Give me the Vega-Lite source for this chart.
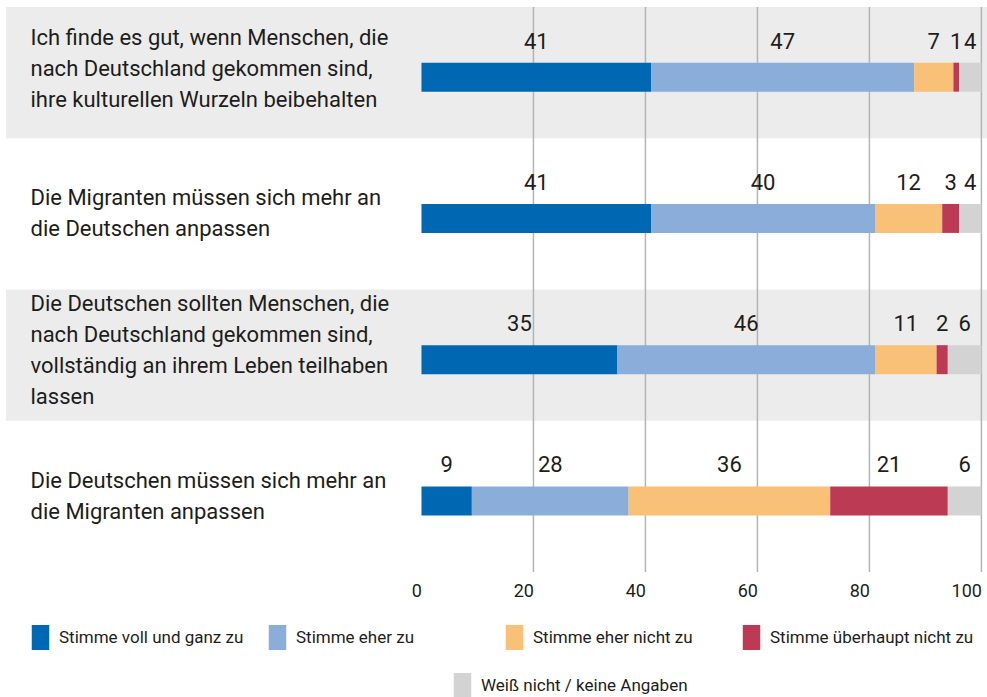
{
  "$schema": "https://vega.github.io/schema/vega-lite/v6.json",
  "width": 981,
  "height": 565,
  "autosize": {"type": "none"},
  "padding": {"left": 6, "top": 7, "right": 0, "bottom": 125},
  "background": "white",
  "config": {
    "view": {"stroke": null},
    "font": "Roboto, sans-serif",
    "text": {"font": "Roboto, sans-serif"}
  },
  "datasets": {
    "statements": [
      {"statement": "Ich finde es gut, wenn Menschen, die|nach Deutschland gekommen sind,|ihre kulturellen Wurzeln beibehalten", "shade": 1},
      {"statement": "Die Migranten müssen sich mehr an|die Deutschen anpassen", "shade": 0},
      {"statement": "Die Deutschen sollten Menschen, die|nach Deutschland gekommen sind,|vollständig an ihrem Leben teilhaben|lassen", "shade": 1},
      {"statement": "Die Deutschen müssen sich mehr an|die Migranten anpassen", "shade": 0}
    ],
    "gridlines": [{"v": 20}, {"v": 40}, {"v": 60}, {"v": 80}, {"v": 100}],
    "responses": [
      {"statement": "Ich finde es gut, wenn Menschen, die|nach Deutschland gekommen sind,|ihre kulturellen Wurzeln beibehalten", "answer": "Stimme voll und ganz zu", "rank": 1, "pct": 41},
      {"statement": "Ich finde es gut, wenn Menschen, die|nach Deutschland gekommen sind,|ihre kulturellen Wurzeln beibehalten", "answer": "Stimme eher zu", "rank": 2, "pct": 47},
      {"statement": "Ich finde es gut, wenn Menschen, die|nach Deutschland gekommen sind,|ihre kulturellen Wurzeln beibehalten", "answer": "Stimme eher nicht zu", "rank": 3, "pct": 7},
      {"statement": "Ich finde es gut, wenn Menschen, die|nach Deutschland gekommen sind,|ihre kulturellen Wurzeln beibehalten", "answer": "Stimme überhaupt nicht zu", "rank": 4, "pct": 1},
      {"statement": "Ich finde es gut, wenn Menschen, die|nach Deutschland gekommen sind,|ihre kulturellen Wurzeln beibehalten", "answer": "Weiß nicht / keine Angaben", "rank": 5, "pct": 4},
      {"statement": "Die Migranten müssen sich mehr an|die Deutschen anpassen", "answer": "Stimme voll und ganz zu", "rank": 1, "pct": 41},
      {"statement": "Die Migranten müssen sich mehr an|die Deutschen anpassen", "answer": "Stimme eher zu", "rank": 2, "pct": 40},
      {"statement": "Die Migranten müssen sich mehr an|die Deutschen anpassen", "answer": "Stimme eher nicht zu", "rank": 3, "pct": 12},
      {"statement": "Die Migranten müssen sich mehr an|die Deutschen anpassen", "answer": "Stimme überhaupt nicht zu", "rank": 4, "pct": 3},
      {"statement": "Die Migranten müssen sich mehr an|die Deutschen anpassen", "answer": "Weiß nicht / keine Angaben", "rank": 5, "pct": 4},
      {"statement": "Die Deutschen sollten Menschen, die|nach Deutschland gekommen sind,|vollständig an ihrem Leben teilhaben|lassen", "answer": "Stimme voll und ganz zu", "rank": 1, "pct": 35},
      {"statement": "Die Deutschen sollten Menschen, die|nach Deutschland gekommen sind,|vollständig an ihrem Leben teilhaben|lassen", "answer": "Stimme eher zu", "rank": 2, "pct": 46},
      {"statement": "Die Deutschen sollten Menschen, die|nach Deutschland gekommen sind,|vollständig an ihrem Leben teilhaben|lassen", "answer": "Stimme eher nicht zu", "rank": 3, "pct": 11},
      {"statement": "Die Deutschen sollten Menschen, die|nach Deutschland gekommen sind,|vollständig an ihrem Leben teilhaben|lassen", "answer": "Stimme überhaupt nicht zu", "rank": 4, "pct": 2},
      {"statement": "Die Deutschen sollten Menschen, die|nach Deutschland gekommen sind,|vollständig an ihrem Leben teilhaben|lassen", "answer": "Weiß nicht / keine Angaben", "rank": 5, "pct": 6},
      {"statement": "Die Deutschen müssen sich mehr an|die Migranten anpassen", "answer": "Stimme voll und ganz zu", "rank": 1, "pct": 9},
      {"statement": "Die Deutschen müssen sich mehr an|die Migranten anpassen", "answer": "Stimme eher zu", "rank": 2, "pct": 28},
      {"statement": "Die Deutschen müssen sich mehr an|die Migranten anpassen", "answer": "Stimme eher nicht zu", "rank": 3, "pct": 36},
      {"statement": "Die Deutschen müssen sich mehr an|die Migranten anpassen", "answer": "Stimme überhaupt nicht zu", "rank": 4, "pct": 21},
      {"statement": "Die Deutschen müssen sich mehr an|die Migranten anpassen", "answer": "Weiß nicht / keine Angaben", "rank": 5, "pct": 6}
    ]
  },
  "layer": [
    {
      "data": {"name": "statements"},
      "transform": [{"filter": "datum.shade == 1"}],
      "mark": {"type": "rect", "color": "#ececec"},
      "encoding": {
        "y": {
          "field": "statement",
          "type": "nominal",
          "sort": null,
          "scale": {
            "type": "band",
            "domain": [
              "Ich finde es gut, wenn Menschen, die|nach Deutschland gekommen sind,|ihre kulturellen Wurzeln beibehalten",
              "Die Migranten müssen sich mehr an|die Deutschen anpassen",
              "Die Deutschen sollten Menschen, die|nach Deutschland gekommen sind,|vollständig an ihrem Leben teilhaben|lassen",
              "Die Deutschen müssen sich mehr an|die Migranten anpassen"
            ],
            "paddingInner": 0.07,
            "paddingOuter": 0.035,
            "align": 0
          },
          "axis": {
            "title": null,
            "orient": "left",
            "domain": false,
            "ticks": false,
            "tickSize": 0,
            "labelAlign": "left",
            "labelBaseline": "middle",
            "labelPadding": -24,
            "labelOffset": {
              "condition": [
                {"test": "indexof(datum.value, 'Wurzeln') >= 0", "value": -35},
                {"test": "indexof(datum.value, 'lassen') >= 0", "value": -51}
              ],
              "value": -15.5
            },
            "labelExpr": "split(datum.value, '|')",
            "labelLineHeight": 31,
            "labelFont": "Roboto, sans-serif",
            "labelFontSize": 22,
            "labelColor": "#1d1d1b",
            "labelLimit": 500,
            "labelBound": false,
            "labelOverlap": false,
            "zindex": 1
          }
        }
      }
    },
    {
      "data": {"name": "gridlines"},
      "mark": {"type": "rule", "color": "#b4b4b4", "strokeWidth": 1.5},
      "encoding": {
        "x": {
          "field": "v",
          "type": "quantitative",
          "scale": {"domain": [-74.2, 101], "nice": false, "zero": false},
          "axis": {
            "title": null,
            "values": [0, 20, 40, 60, 80, 100],
            "grid": false,
            "domain": false,
            "ticks": false,
            "labelAlign": "right",
            "labelFlush": false,
            "labelPadding": 10,
            "labelFont": "Roboto, sans-serif",
            "labelFontSize": 18,
            "labelColor": "#1d1d1b"
          }
        }
      }
    },
    {
      "mark": {"type": "rule", "color": "#3c3c3c", "strokeWidth": 2},
      "encoding": {
        "x": {"datum": 0, "type": "quantitative", "scale": {"domain": [-74.2, 101], "nice": false, "zero": false}}
      }
    },
    {
      "data": {"name": "responses"},
      "transform": [
        {"stack": "pct", "groupby": ["statement"], "sort": [{"field": "rank", "order": "ascending"}], "as": ["x0", "x1"]},
        {"calculate": "(datum.x0 + datum.x1) / 2", "as": "mid"}
      ],
      "layer": [
        {
          "transform": [{"filter": "datum.rank < 5"}],
          "mark": {"type": "bar", "size": 29, "yOffset": 4.5},
          "encoding": {
            "y": {"field": "statement", "type": "nominal", "sort": null},
            "x": {"field": "x0", "type": "quantitative", "scale": {"domain": [-74.2, 101], "nice": false, "zero": false}},
            "x2": {"field": "x1"},
            "color": {
              "field": "answer",
              "type": "nominal",
              "scale": {
                "domain": ["Stimme voll und ganz zu", "Stimme eher zu", "Stimme eher nicht zu", "Stimme überhaupt nicht zu"],
                "range": ["#0068b3", "#8badd9", "#f9c077", "#bd3a54"]
              },
              "legend": {
                "title": null,
                "orient": "none",
                "legendX": 22,
                "legendY": 618,
                "direction": "horizontal",
                "columns": 4,
                "gridAlign": "all",
                "columnPadding": 2,
                "symbolType": "M-0.7,-1H0.7V1H-0.7Z",
                "symbolSize": 625,
                "symbolStrokeWidth": 0,
                "symbolOpacity": 1,
                "labelFont": "Roboto, sans-serif",
                "labelFontSize": 17,
                "labelColor": "#1d1d1b",
                "labelOffset": 6,
                "labelLimit": 400
              }
            }
          }
        },
        {
          "transform": [{"filter": "datum.rank == 5"}],
          "mark": {"type": "bar", "size": 29, "yOffset": 4.5},
          "encoding": {
            "y": {"field": "statement", "type": "nominal", "sort": null},
            "x": {"field": "x0", "type": "quantitative", "scale": {"domain": [-74.2, 101], "nice": false, "zero": false}},
            "x2": {"field": "x1"},
            "fill": {
              "field": "answer",
              "type": "nominal",
              "scale": {"domain": ["Weiß nicht / keine Angaben"], "range": ["#d2d3d2"]},
              "legend": {
                "title": null,
                "orient": "none",
                "legendX": 444,
                "legendY": 666,
                "symbolType": "M-0.7,-1H0.7V1H-0.7Z",
                "symbolSize": 625,
                "symbolStrokeWidth": 0,
                "symbolOpacity": 1,
                "labelFont": "Roboto, sans-serif",
                "labelFontSize": 17,
                "labelColor": "#1d1d1b",
                "labelOffset": 6,
                "labelLimit": 400
              }
            }
          }
        },
        {
          "mark": {"type": "text", "fontSize": 22, "color": "#1d1d1b", "baseline": "middle", "align": "center", "yOffset": -31},
          "encoding": {
            "y": {"field": "statement", "type": "nominal", "sort": null},
            "x": {"field": "mid", "type": "quantitative", "scale": {"domain": [-74.2, 101], "nice": false, "zero": false}},
            "text": {"field": "pct", "type": "quantitative"}
          }
        }
      ]
    }
  ]
}
